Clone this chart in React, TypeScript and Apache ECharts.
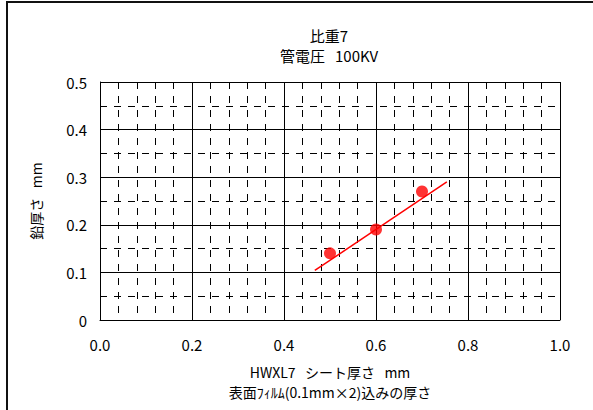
import React, { useEffect, useRef } from "react";
import * as echarts from "echarts";

const titleText = ["比重7", "管電圧   100KV"];
const xAxisName = ["HWXL7   シート厚さ   mm", "表面ﾌｨﾙﾑ(0.1mm×2)込みの厚さ"];
const yAxisName = "鉛厚さ   mm";
const sheetThickness = [0.5, 0.6, 0.7];
const leadThickness = [0.14, 0.19, 0.27];
const trendX = [0.467, 0.754];
const trendY = [0.104, 0.29];

const FONT = "'Noto Sans CJK JP', 'Noto Sans', sans-serif";

export default function App() {
  const ref = useRef<HTMLDivElement>(null);
  useEffect(() => {
    if (!ref.current) return;
    const chart = echarts.init(ref.current, null, { renderer: "svg" });
    chart.setOption({
      animation: false,
      backgroundColor: "#fff",
      textStyle: { fontFamily: FONT },
      title: {
        text: titleText.join("\n"),
        left: 324,
        top: 20,
        textAlign: "center",
        textStyle: { fontSize: 15, fontWeight: "normal", color: "#000", lineHeight: 20, fontFamily: FONT },
      },
      graphic: [
        {
          type: "rect",
          shape: { x: 7, y: 2, width: 700, height: 500 },
          style: { fill: "none", stroke: "#111", lineWidth: 2 },
          silent: true,
        },
      ],
      grid: { left: 100, right: 33, top: 82, bottom: 90 },
      xAxis: {
        type: "value",
        min: 0,
        max: 1,
        interval: 0.2,
        name: xAxisName.join("\n"),
        nameLocation: "middle",
        nameGap: 42,
        nameTextStyle: { fontSize: 14, color: "#000", lineHeight: 20, fontFamily: FONT },
        axisLine: { show: true, lineStyle: { color: "#000", width: 1 } },
        axisTick: { show: false },
        axisLabel: {
          color: "#000",
          fontSize: 15,
          margin: 17,
          formatter: (v: number) => v.toFixed(1),
        },
        splitLine: { show: true, lineStyle: { color: "#000", width: 1 } },
        minorTick: { show: false, splitNumber: 5 },
        minorSplitLine: { show: true, lineStyle: { color: "#000", width: 1, type: [7, 7] } },
      },
      yAxis: {
        type: "value",
        min: 0,
        max: 0.5,
        interval: 0.1,
        name: yAxisName,
        nameLocation: "middle",
        nameGap: 57,
        nameRotate: 90,
        nameTextStyle: { fontSize: 14, color: "#000", fontFamily: FONT },
        axisLine: { show: true, lineStyle: { color: "#000", width: 1 } },
        axisTick: { show: false },
        axisLabel: {
          color: "#000",
          fontSize: 15,
          margin: 13,
          formatter: (v: number) => (v === 0 ? "0" : v.toFixed(1)),
        },
        splitLine: { show: true, lineStyle: { color: "#000", width: 1 } },
        minorTick: { show: false, splitNumber: 2 },
        minorSplitLine: { show: true, lineStyle: { color: "#000", width: 1, type: [7, 7] } },
      },
      series: [
        {
          type: "line",
          data: trendX.map((x, i) => [x, trendY[i]]),
          symbol: "none",
          lineStyle: { color: "#ff0000", width: 1.5 },
          silent: true,
          z: 2,
        },
        {
          type: "scatter",
          data: sheetThickness.map((x, i) => [x, leadThickness[i]]),
          symbol: "circle",
          symbolSize: 12,
          itemStyle: { color: "#ff0000" },
          z: 3,
        },
      ],
    });
    return () => chart.dispose();
  }, []);
  return (
    <div
      ref={ref}
      style={{ position: "absolute", left: 0, top: 0, width: 593, height: 410 }}
    />
  );
}
